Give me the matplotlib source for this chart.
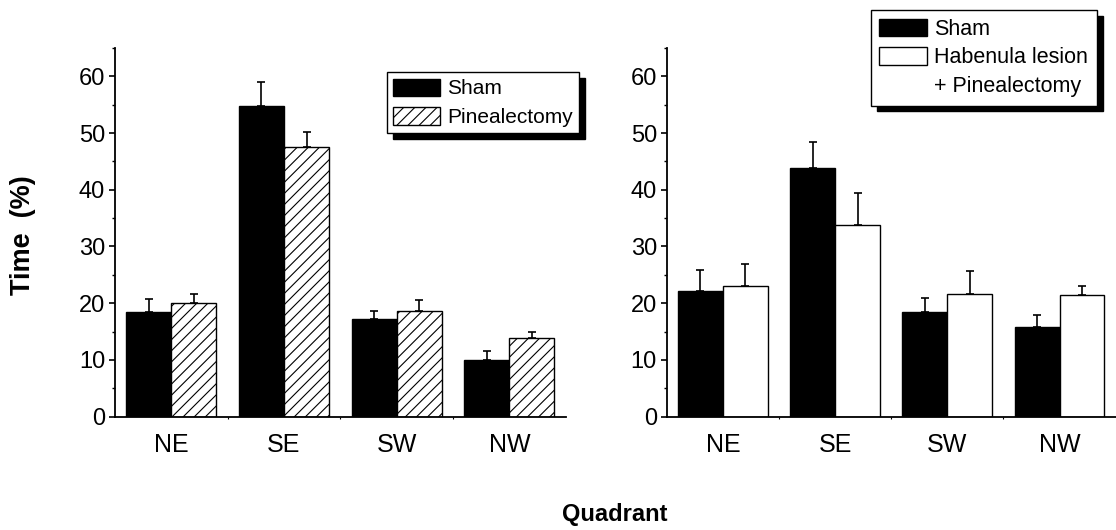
import numpy as np
import matplotlib
matplotlib.use("Agg")
import matplotlib.pyplot as plt
from matplotlib.patches import Patch
from matplotlib.ticker import MultipleLocator, FixedLocator

plt.rcParams['font.family'] = ['Liberation Sans', 'DejaVu Sans']
plt.rcParams['hatch.linewidth'] = 0.8

quadrants = ['NE', 'SE', 'SW', 'NW']

left_sham_mean = [18.4, 54.8, 17.2, 10.0]
left_sham_sem = [2.3, 4.2, 1.5, 1.6]
left_pinx_mean = [20.0, 47.6, 18.6, 13.8]
left_pinx_sem = [1.6, 2.5, 1.9, 1.2]

right_sham_mean = [22.1, 43.9, 18.5, 15.8]
right_sham_sem = [3.7, 4.6, 2.4, 2.1]
right_hab_mean = [23.0, 33.7, 21.6, 21.5]
right_hab_sem = [3.9, 5.8, 4.0, 1.6]

fig = plt.figure(figsize=(11.16, 5.30), dpi=100)
ax1 = fig.add_axes([0.1030, 0.2140, 0.4039, 0.6955])
ax2 = fig.add_axes([0.5974, 0.2140, 0.4023, 0.6955])

x = np.arange(len(quadrants))
w = 0.4


def style_axis(ax):
    for s in ['top', 'right']:
        ax.spines[s].set_visible(False)
    for s in ['left', 'bottom']:
        ax.spines[s].set_linewidth(1.3)
    ax.set_xlim(-0.5, 3.5)
    ax.set_ylim(0, 65)
    ax.yaxis.set_major_locator(FixedLocator([0, 10, 20, 30, 40, 50, 60]))
    ax.yaxis.set_minor_locator(MultipleLocator(5))
    ax.set_xticks(x)
    ax.set_xticklabels(quadrants)
    ax.xaxis.set_minor_locator(FixedLocator([0.5, 1.5, 2.5]))
    ax.tick_params(axis='y', which='major', direction='out', length=4, width=1.2,
                   labelsize=17, pad=3)
    ax.tick_params(axis='y', which='minor', direction='out', length=2.2, width=1.0)
    ax.tick_params(axis='x', which='major', length=0, labelsize=18, pad=12)
    ax.tick_params(axis='x', which='minor', direction='out', length=1.5, width=0.8)


def draw_group(ax, m1, e1, m2, e2, hatch2):
    ax.bar(x - w / 2, m1, width=w, color='black', edgecolor='black', linewidth=1.0, zorder=2)
    ax.bar(x + w / 2, m2, width=w, color='white', edgecolor='black', linewidth=1.0,
           hatch=hatch2, zorder=2)
    ax.errorbar(x - w / 2, m1, yerr=[np.zeros(len(m1)), e1], fmt='none', ecolor='black',
                elinewidth=1.2, capsize=3, capthick=1.2, zorder=1)
    ax.errorbar(x + w / 2, m2, yerr=[np.zeros(len(m2)), e2], fmt='none', ecolor='black',
                elinewidth=1.2, capsize=3, capthick=1.2, zorder=1)


style_axis(ax1)
style_axis(ax2)
draw_group(ax1, left_sham_mean, left_sham_sem, left_pinx_mean, left_pinx_sem, '///')
draw_group(ax2, right_sham_mean, right_sham_sem, right_hab_mean, right_hab_sem, None)

shadow = {'ox': 4.3, 'oy': -4.3, 'facecolor': 'black', 'edgecolor': 'black', 'alpha': 1}

h_sham = Patch(facecolor='black', edgecolor='black', linewidth=1.0)
h_pinx = Patch(facecolor='white', edgecolor='black', linewidth=1.0, hatch='///')
leg1 = fig.legend([h_sham, h_pinx], ['Sham', 'Pinealectomy'], loc='upper left',
                  bbox_to_anchor=(386.7 / 1116, 1 - 72.3 / 530), bbox_transform=fig.transFigure,
                  borderaxespad=0, fontsize=15, frameon=True, fancybox=False,
                  framealpha=1, edgecolor='black', shadow=shadow, borderpad=0.3,
                  handlelength=2.25, handleheight=0.91, handletextpad=0.35,
                  labelspacing=0.42)
leg1.get_frame().set_linewidth(1.0)

h_hab = Patch(facecolor='white', edgecolor='black', linewidth=1.0)
h_none = Patch(facecolor='none', edgecolor='none')
leg2 = fig.legend([h_sham, h_hab, h_none], ['Sham', 'Habenula lesion', '+ Pinealectomy'],
                  loc='upper left', bbox_to_anchor=(870.7 / 1116, 1 - 10 / 530),
                  bbox_transform=fig.transFigure, borderaxespad=0, fontsize=15.5,
                  frameon=True, fancybox=False, framealpha=1, edgecolor='black',
                  shadow=shadow, borderpad=0.4, handlelength=2.2, handleheight=0.9,
                  handletextpad=0.35, labelspacing=0.33)
leg2.get_frame().set_linewidth(1.0)

fig.text(23 / 1116, 1 - 235 / 530, 'Time  (%)', rotation=90, ha='center', va='center',
         fontsize=19.5, fontweight='bold')
fig.text(615 / 1116, 1 - 515 / 530, 'Quadrant', ha='center', va='center',
         fontsize=17, fontweight='bold')

fig.savefig('out.png', dpi=100)
